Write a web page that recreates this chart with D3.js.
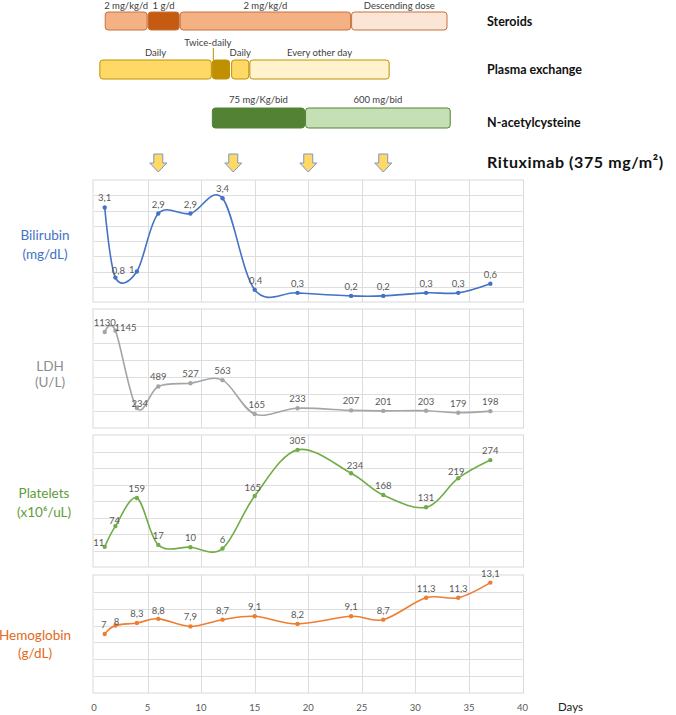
<!DOCTYPE html>
<html>
<head>
<meta charset="utf-8">
<script src="https://cdn.jsdelivr.net/npm/d3@7"></script>
<style>
  body { margin: 0; background: #fff; }
  svg { display: block; font-family: Lato, "Open Sans", sans-serif; }
</style>
</head>
<body>
<svg id="chart" width="676" height="715"></svg>
<script>
// lab values, day of sampling
var days = [1, 2, 4, 6, 9, 12, 15, 19, 24, 27, 31, 34, 37];
var bilirubin = [3.1, 0.8, 1, 2.9, 2.9, 3.4, 0.4, 0.3, 0.2, 0.2, 0.3, 0.3, 0.6];
var ldh = [1130, 1145, 234, 489, 527, 563, 165, 233, 207, 201, 203, 179, 198];
var platelets = [11, 74, 159, 17, 10, 6, 165, 305, 234, 168, 131, 219, 274];
var hemoglobin = [7, 8, 8.3, 8.8, 7.9, 8.7, 9.1, 8.2, 9.1, 8.7, 11.3, 11.3, 13.1];

var xTicks = [0, 5, 10, 15, 20, 25, 30, 35, 40];

// treatments (start day, end day, label)
var steroidStart = [1, 5, 8, 24];
var steroidEnd = [5, 8, 24, 33];
var steroidLabels = ['2 mg/kg/d', '1 g/d', '2 mg/kg/d', 'Descending dose'];

var plasmaStart = [0.5, 11, 12.8, 14.5];
var plasmaEnd = [11, 12.7, 14.5, 27.6];
var plasmaLabels = ['Daily', 'Twice-daily', 'Daily', 'Every other day'];

var nacStart = [11, 19.7];
var nacEnd = [19.7, 33.3];
var nacLabels = ['75 mg/Kg/bid', '600 mg/bid'];

var rituximabDays = [6, 13, 20, 27];

var svg = d3.select('#chart');
var x = d3.scaleLinear().domain([0, 40]).range([94, 522.5]);

var grid = '#dedede';
var labelGrey = '#595959';

// ---- treatment bars
var bars = [
    { start: steroidStart, end: steroidEnd, labels: steroidLabels, y: 12, h: 18, labelY: 9,
      fill: ['#f4b183', '#c55a11', '#f4b183', '#fbe5d6'], stroke: '#c9703a', name: 'Steroids', nameY: 26 },
    { start: plasmaStart, end: plasmaEnd, labels: plasmaLabels, y: 60, h: 19, labelY: 56,
      fill: ['#ffd966', '#bf9000', '#ffd966', '#fff2cc'], stroke: '#bf9000', name: 'Plasma exchange', nameY: 74 },
    { start: nacStart, end: nacEnd, labels: nacLabels, y: 108, h: 20, labelY: 102.5,
      fill: ['#548235', '#c5e0b4'], stroke: '#548235', name: 'N-acetylcysteine', nameY: 127 }
];

bars.forEach(function (b) {
    var g = svg.append('g');
    b.start.forEach(function (s, i) {
        g.append('rect')
            .attr('x', x(s) + 0.5)
            .attr('y', b.y)
            .attr('width', x(b.end[i]) - x(s) - 1)
            .attr('height', b.h)
            .attr('rx', 3)
            .attr('fill', b.fill[i])
            .attr('stroke', b.stroke)
            .attr('stroke-width', 1);

        var lx = (x(s) + x(b.end[i])) / 2, ly = b.labelY;
        if (b.labels[i] === 'Twice-daily') {
            lx = x(s) - 4; ly = 46;
            g.append('line')
                .attr('x1', x(s) + 1.5).attr('x2', x(s) + 1.5)
                .attr('y1', 48).attr('y2', b.y)
                .attr('stroke', '#bf9000');
        }
        g.append('text')
            .attr('x', lx)
            .attr('y', ly)
            .attr('text-anchor', 'middle')
            .attr('font-size', 9.5)
            .attr('fill', '#404040')
            .text(b.labels[i]);
    });
    svg.append('text')
        .attr('x', 487)
        .attr('y', b.nameY)
        .attr('font-size', 12.5)
        .attr('font-weight', 'bold')
        .attr('fill', '#111')
        .text(b.name);
});

// rituximab arrows
svg.selectAll('path.arrow')
    .data(rituximabDays)
    .enter().append('path')
    .attr('class', 'arrow')
    .attr('d', function (d) {
        var c = x(d);
        return 'M' + (c - 4.5) + ',154 H' + (c + 4.5) + ' V163 H' + (c + 8.5) +
            ' L' + c + ',172 L' + (c - 8.5) + ',163 H' + (c - 4.5) + ' Z';
    })
    .attr('fill', '#ffd966')
    .attr('stroke', '#7b96c6')
    .attr('stroke-width', 1);

svg.append('text')
    .attr('x', 487)
    .attr('y', 168)
    .attr('font-size', 16)
    .attr('font-weight', 'bold')
    .attr('letter-spacing', 0.6)
    .attr('fill', '#111')
    .text('Rituximab (375 mg/m²)');

// ---- lab panels
// small [dx, dy] nudges for data labels that sit beside their point
var bilNudge = [[0, 0], [3, 2], [-5, 7], [0, 0], [0, 0], [0, 0], [1, 0], [0, 0], [0, 0], [0, 0], [0, 0], [0, 0], [0, 0]];
var ldhNudge = [[0, 0], [10, 6], [3, 5], [0, 0], [0, 0], [0, 0], [2, 0], [0, 0], [0, 0], [0, 0], [0, 0], [0, 0], [0, 0]];
var pltNudge = [[-6, 5], [-1, 4], [0, 0], [0, 0], [0, 0], [0, 0], [-2, 1], [0, 0], [4, 2], [0, 0], [0, 0], [-2, 3], [0, 0]];
var hbNudge = [[-1, 0], [1, 5], [0, 0], [0, 1.5], [0, 0], [0, 0], [0, 0], [0, 0], [0, 0], [0, 0], [0, 0], [0, 0], [0, 0]];

var panels = [
    { title: ['Bilirubin', '(mg/dL)'], values: bilirubin, nudge: bilNudge, domain: [0, 4], step: 0.5,
      top: 180, bottom: 302, line: '#4472c4', text: '#4472c4', tx: 45, ty: [240, 259] },
    { title: ['LDH', '(U/L)'], values: ldh, nudge: ldhNudge, domain: [0, 1400], step: 200,
      top: 309, bottom: 428, line: '#a5a5a5', text: '#8c8c8c', tx: 50, ty: [371, 387] },
    { title: ['Platelets', '(x10⁶/uL)'], values: platelets, nudge: pltNudge, domain: [-50, 350], step: 50,
      top: 435, bottom: 567, line: '#70ad47', text: '#5e9c3a', tx: 44, ty: [498, 517] },
    { title: ['Hemoglobin', '(g/dL)'], values: hemoglobin, nudge: hbNudge, domain: [0, 14], step: 2,
      top: 575, bottom: 693, line: '#ed7d31', text: '#e3691c', tx: 35, ty: [640, 658] }
];

function fmt(v) { return String(v).replace('.', ','); }

panels.forEach(function (p) {
    var y = d3.scaleLinear().domain(p.domain).range([p.bottom, p.top]);
    var g = svg.append('g');

    var yTicks = d3.range(p.domain[0] + p.step, p.domain[1] - p.step / 2, p.step);
    g.selectAll('line.h').data(yTicks).enter().append('line')
        .attr('x1', x(0)).attr('x2', x(40))
        .attr('y1', function (d) { return Math.round(y(d)) + 0.5; })
        .attr('y2', function (d) { return Math.round(y(d)) + 0.5; })
        .attr('stroke', grid);
    g.selectAll('line.v').data(xTicks.slice(1, -1)).enter().append('line')
        .attr('x1', function (d) { return Math.round(x(d)) + 0.5; })
        .attr('x2', function (d) { return Math.round(x(d)) + 0.5; })
        .attr('y1', p.top).attr('y2', p.bottom)
        .attr('stroke', grid);
    g.append('rect')
        .attr('x', x(0) - 1).attr('y', p.top)
        .attr('width', x(40) - x(0) + 2).attr('height', p.bottom - p.top)
        .attr('fill', 'none').attr('stroke', '#d9d9d9');

    var pts = days.map(function (d, i) { return [d, p.values[i], p.nudge[i]]; });
    var line = d3.line()
        .x(function (d) { return x(d[0]); })
        .y(function (d) { return y(d[1]); })
        .curve(d3.curveCardinal.tension(0));

    g.append('path')
        .attr('d', line(pts))
        .attr('fill', 'none')
        .attr('stroke', p.line)
        .attr('stroke-width', 1.6);

    g.selectAll('circle').data(pts).enter().append('circle')
        .attr('cx', function (d) { return x(d[0]); })
        .attr('cy', function (d) { return y(d[1]); })
        .attr('r', 2.2)
        .attr('fill', p.line);

    g.selectAll('text.val').data(pts).enter().append('text')
        .attr('x', function (d) { return x(d[0]) + d[2][0]; })
        .attr('y', function (d) { return y(d[1]) - 6 + d[2][1]; })
        .attr('text-anchor', 'middle')
        .attr('font-size', 9.5)
        .attr('fill', labelGrey)
        .text(function (d) { return fmt(d[1]); });

    g.selectAll('text.title').data(p.title).enter().append('text')
        .attr('x', p.tx)
        .attr('y', function (d, i) { return p.ty[i]; })
        .attr('text-anchor', 'middle')
        .attr('font-size', 13.5)
        .attr('fill', p.text)
        .text(function (d) { return d; });
});

// x axis labels
svg.selectAll('text.xt').data(xTicks).enter().append('text')
    .attr('x', function (d) { return x(d); })
    .attr('y', 711)
    .attr('text-anchor', 'middle')
    .attr('font-size', 9.5)
    .attr('fill', labelGrey)
    .text(function (d) { return d; });

svg.append('text')
    .attr('x', 558)
    .attr('y', 711)
    .attr('font-size', 11.5)
    .attr('fill', '#222')
    .text('Days');
</script>
</body>
</html>
